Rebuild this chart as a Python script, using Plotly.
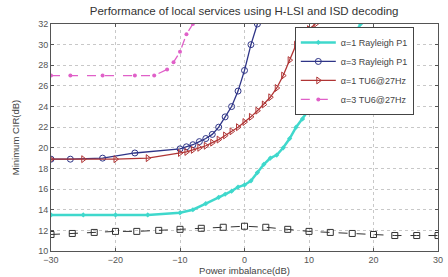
import plotly.graph_objects as go

# alpha=1 Rayleigh P1 (cyan)
x_c = [-30, -25, -20, -15, -10, -8, -6, -4, -3, -2, -1, 0, 1, 2, 3, 4, 5, 6, 7, 8, 9, 10, 11, 12, 13, 14, 15, 16, 17, 18]
y_c = [13.5, 13.5, 13.5, 13.5, 13.7, 14.0, 14.6, 15.2, 15.5, 15.8, 16.2, 16.4, 16.8, 17.6, 18.4, 19.0, 19.3, 20.0, 20.9, 22.0, 22.8, 23.7, 24.9, 25.8, 26.7, 27.7, 28.8, 29.9, 31.0, 32.0]

# alpha=3 Rayleigh P1 (blue)
x_b = [-30, -27, -22, -17, -10, -9, -8, -7, -6, -5, -4, -3, -2, -1, 0, 1, 2]
y_b = [18.9, 18.9, 19.0, 19.5, 19.9, 20.1, 20.3, 20.6, 20.9, 21.3, 22.0, 23.0, 24.0, 25.5, 27.5, 30.0, 32.0]

# alpha=1 TU6@27Hz (red)
x_r = [-30, -25, -20, -15, -10, -9, -8, -7, -6, -5, -4, -3, -2, -1, 0, 1, 2, 3, 4, 5, 6, 7, 8, 9, 10, 11]
y_r = [18.9, 18.9, 18.9, 19.0, 19.5, 19.6, 19.8, 20.0, 20.2, 20.5, 20.8, 21.2, 21.6, 22.0, 22.5, 23.0, 23.6, 24.2, 24.9, 25.8, 27.0, 28.5, 30.0, 30.8, 31.5, 32.0]

# alpha=3 TU6@27Hz (pink dashed)
x_p = [-30, -27, -22, -17, -14, -12, -11, -10, -9, -8]
y_p = [27.0, 27.0, 27.0, 27.0, 27.0, 27.6, 28.3, 29.3, 31.0, 32.0]

# reference (black dashed squares)
x_k = [-30, -26.7, -23.3, -20, -16.7, -13.3, -10, -6.7, -3.3, 0, 3.3, 6.7, 10, 13.3, 16.7, 20, 23.3, 26.7, 30]
y_k = [11.6, 11.7, 11.8, 11.9, 11.9, 12.0, 12.1, 12.2, 12.3, 12.4, 12.3, 12.1, 11.9, 11.8, 11.7, 11.6, 11.5, 11.5, 11.5]

x_ticks = [-30, -20, -10, 0, 10, 20, 30]
y_ticks = [10, 12, 14, 16, 18, 20, 22, 24, 26, 28, 30, 32]

FONT = "Liberation Sans"

fig = go.Figure()
fig.add_trace(go.Scatter(x=x_k, y=y_k, mode="lines+markers", showlegend=False,
                         line=dict(color="#333333", width=1, dash="dash"),
                         marker=dict(symbol="square-open", size=6, color="#333333")))
fig.add_trace(go.Scatter(x=x_c, y=y_c, mode="lines+markers", name="α=1 Rayleigh P1",
                         line=dict(color="#3fd8cc", width=2.5),
                         marker=dict(symbol="diamond", size=4, color="#3fd8cc")))
fig.add_trace(go.Scatter(x=x_b, y=y_b, mode="lines+markers", name="α=3 Rayleigh P1",
                         line=dict(color="#2e3487", width=1.3),
                         marker=dict(symbol="circle-open", size=6, color="#2e3487")))
fig.add_trace(go.Scatter(x=x_r, y=y_r, mode="lines+markers", name="α=1 TU6@27Hz",
                         line=dict(color="#b03535", width=1.3),
                         marker=dict(symbol="triangle-right-open", size=6, color="#b03535")))
fig.add_trace(go.Scatter(x=x_p, y=y_p, mode="lines+markers", name="α=3 TU6@27Hz",
                         line=dict(color="#e060c8", width=1.3, dash="dash"),
                         marker=dict(symbol="circle", size=4, color="#e060c8")))

axis_common = dict(showgrid=True, gridcolor="#c8c8c8", griddash="dot", gridwidth=1,
                   showline=True, linecolor="#555555", linewidth=1, mirror="ticks",
                   ticks="inside", ticklen=3, tickcolor="#555555", zeroline=False,
                   tickfont=dict(family=FONT, size=9, color="#555555"))

fig.update_layout(
    width=448, height=277,
    margin=dict(l=51, r=5, t=24, b=24),
    paper_bgcolor="white", plot_bgcolor="white",
    title=dict(text="Performance of local services using H-LSI and ISD decoding",
               x=0.545, xanchor="center", y=0.975, yanchor="top",
               font=dict(family=FONT, size=11.5, color="#333333")),
    xaxis=dict(range=[-30, 30], tickvals=x_ticks,
               title=dict(text="Power imbalance(dB)", standoff=1,
                          font=dict(family=FONT, size=9.5, color="#444444")),
               **axis_common),
    yaxis=dict(range=[10, 32], tickvals=y_ticks,
               title=dict(text="Minimum CIR(dB)", standoff=16,
                          font=dict(family=FONT, size=9.5, color="#444444")),
               **axis_common),
    legend=dict(x=0.63, y=0.987, xanchor="left", yanchor="top",
                bgcolor="white", bordercolor="#444444", borderwidth=1,
                font=dict(family=FONT, size=9, color="#444444"),
                tracegroupgap=0, itemwidth=35),
)

fig.write_html("out.html", config={"displayModeBar": False},
               post_script="document.body.style.margin='0';document.body.style.overflow='hidden';")
